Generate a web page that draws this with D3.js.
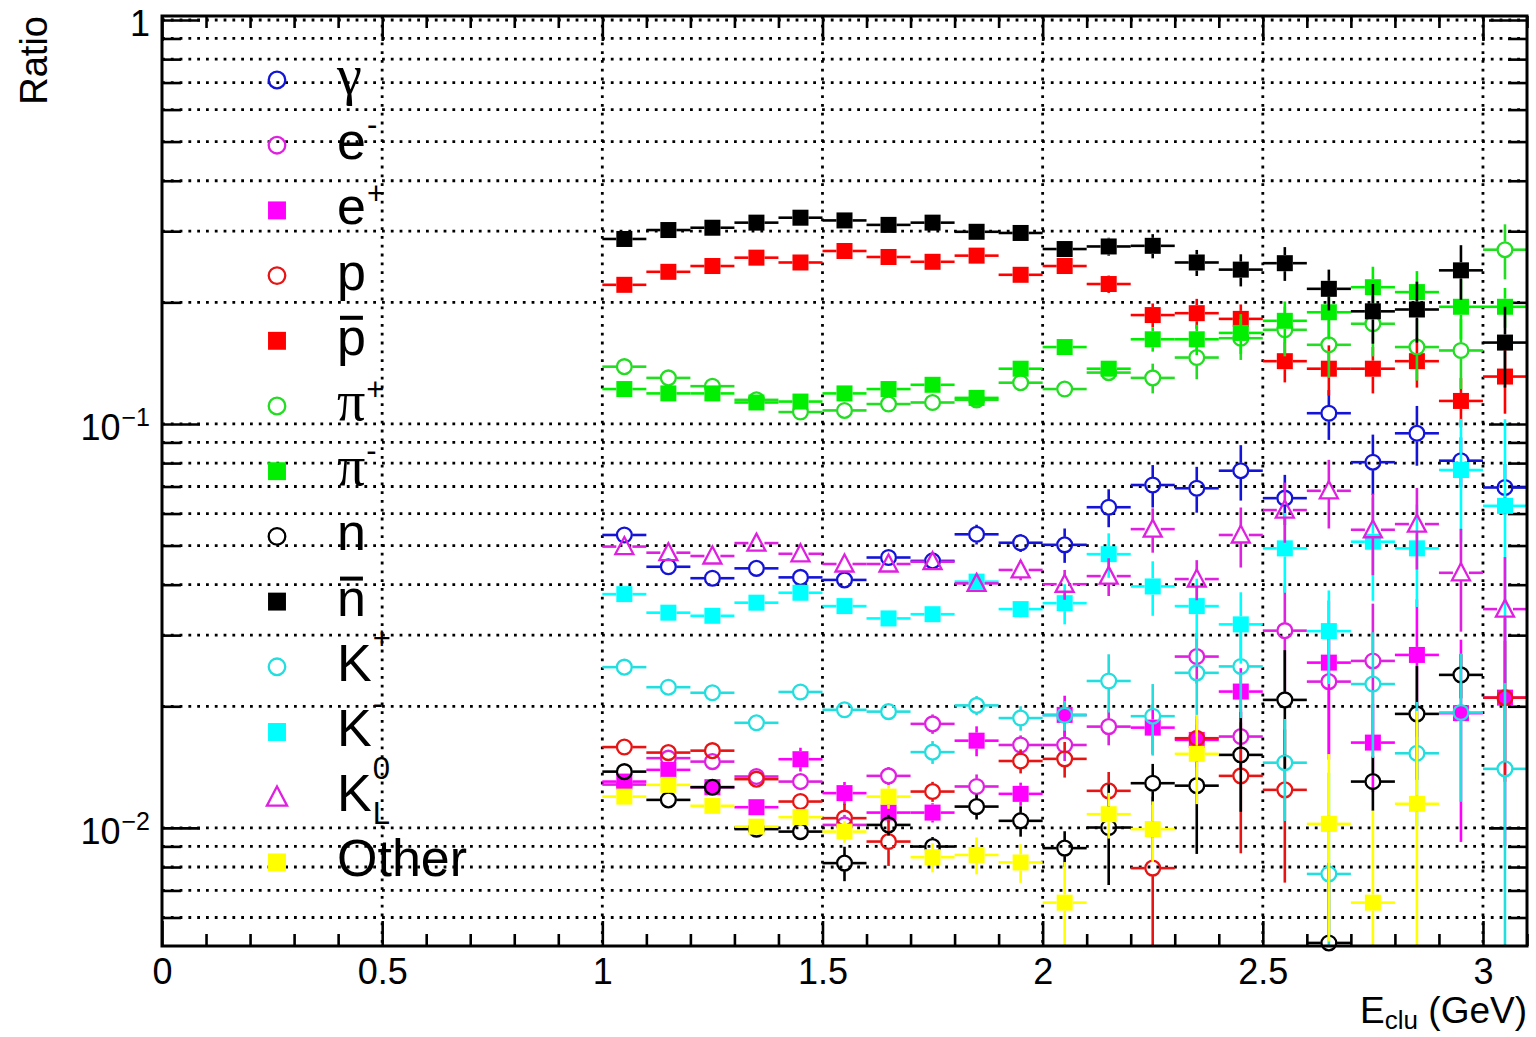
<!DOCTYPE html>
<html>
<head>
<meta charset="utf-8">
<title>Cluster composition vs. cluster energy</title>
<script src="https://cdn.jsdelivr.net/npm/d3@7"></script>
<style>
  body { margin: 0; background: #ffffff; }
  svg { display: block; }
  text { font-family: "Liberation Sans", Arial, Helvetica, sans-serif; fill: #000; }
</style>
</head>
<body>
<svg id="chart" width="1536" height="1037"></svg>
<script>
// ---- data: fraction of clusters per particle species, in bins of E_clu (GeV) ----
const binCenters = [1.05, 1.15, 1.25, 1.35, 1.45, 1.55, 1.65, 1.75, 1.85, 1.95, 2.05,
                    2.15, 2.25, 2.35, 2.45, 2.55, 2.65, 2.75, 2.85, 2.95, 3.05];
const binHalfWidth = 0.05;

const gammaRatio = [0.0531, 0.0443, 0.0415, 0.0439, 0.0417, 0.0411, 0.0467, 0.0458, 0.0533, 0.0508, 0.0502,
                    0.0622, 0.0706, 0.0693, 0.0766, 0.0655, 0.1063, 0.0804, 0.0948, 0.0811, 0.0696];
const gammaErr   = [0.0012, 0.0012, 0.0012, 0.0012, 0.0013, 0.0014, 0.0015, 0.0016, 0.0030, 0.0026, 0.0049,
                    0.0067, 0.0085, 0.0090, 0.0120, 0.0093, 0.0150, 0.0137, 0.0160, 0.0115, 0.0100];

const eMinusRatio = [0.0128, 0.01488, 0.01459, 0.0134, 0.01302, 0.01017, 0.01345, 0.01809, 0.01266, 0.01604, 0.01604,
                     0.01781, null, 0.02655, 0.01683, 0.03078, 0.02302, 0.0259, null, null, null];
const eMinusErr   = [0.0003, 0.0003, 0.0003, 0.0004, 0.0005, 0.0006, 0.0007, 0.0010, 0.0009, 0.0009, 0.0014,
                     0.0018, null, 0.0038, 0.0029, 0.0090, 0.0078, 0.0100, null, null, null];

const ePlusRatio = [0.01302, 0.01392, 0.01261, 0.01125, 0.01479, 0.01219, 0.01091, 0.01091, 0.01644, 0.01214, 0.01904,
                    null, 0.01771, 0.01651, 0.02175, null, 0.02565, 0.01626, 0.0268, 0.01923, 0.02101];
const ePlusErr   = [0.0003, 0.0003, 0.0003, 0.0004, 0.0010, 0.0008, 0.0006, 0.0006, 0.0014, 0.0008, 0.0022,
                    null, 0.0025, 0.0024, 0.0031, null, 0.0109, 0.0040, 0.0100, 0.0100, 0.0120];

const protonRatio = [0.01585, 0.01536, 0.01553, 0.0132, 0.01162, 0.01057, 0.00925, 0.0123, null, 0.01464, 0.01482,
                     0.01235, 0.00795, 0.01667, 0.01345, 0.01242, null, null, null, null, 0.02101];
const protonErr   = [0.0003, 0.0003, 0.0003, 0.0004, 0.0005, 0.0009, 0.0012, 0.0007, null, 0.0010, 0.0015,
                     0.0014, 0.0040, 0.0019, 0.0048, 0.0051, null, null, null, null, 0.0080];

const antiProtonRatio = [0.221, 0.238, 0.246, 0.258, 0.251, 0.268, 0.259, 0.252, 0.261, 0.234, 0.246,
                         0.222, 0.186, 0.188, 0.182, 0.143, 0.137, 0.137, 0.143, 0.114, 0.131];
const antiProtonErr   = [0.003, 0.003, 0.003, 0.003, 0.003, 0.004, 0.004, 0.004, 0.004, 0.005, 0.006,
                         0.011, 0.0127, 0.016, 0.0156, 0.0163, 0.0195, 0.018, 0.020, 0.016, 0.025];

const piPlusRatio = [0.1386, 0.130, 0.124, 0.1147, 0.107, 0.108, 0.112, 0.113, 0.1147, 0.1265, 0.122,
                     0.134, 0.130, 0.146, 0.163, 0.171, 0.157, 0.177, 0.155, 0.152, 0.270];
const piPlusErr   = [0.002, 0.002, 0.002, 0.002, 0.002, 0.002, 0.003, 0.003, 0.003, 0.004, 0.005,
                     0.006, 0.011, 0.017, 0.019, 0.024, 0.027, 0.030, 0.027, 0.030, 0.042];

const piMinusRatio = [0.122, 0.119, 0.119, 0.113, 0.1136, 0.119, 0.122, 0.125, 0.116, 0.137, 0.155,
                      0.137, 0.162, 0.162, 0.168, 0.180, 0.189, 0.218, 0.212, 0.195, 0.195];
const piMinusErr   = [0.002, 0.002, 0.002, 0.002, 0.002, 0.002, 0.003, 0.003, 0.003, 0.004, 0.005,
                      0.006, 0.011, 0.014, 0.019, 0.021, 0.027, 0.027, 0.027, 0.033, 0.022];

const neutronRatio = [0.01378, 0.01173, 0.01261, 0.00993, 0.00979, 0.00818, 0.01017, 0.00899, 0.01129, 0.01041, 0.00891,
                      0.01002, 0.0129, 0.01272, 0.01516, 0.02074, 0.00519, 0.01302, 0.01915, 0.02392, null];
const neutronErr   = [0.0003, 0.0003, 0.0003, 0.0004, 0.00045, 0.0008, 0.0006, 0.0005, 0.0008, 0.0009, 0.0009,
                      0.0028, 0.0015, 0.0041, 0.0042, 0.0068, 0.0030, 0.0020, 0.0060, 0.0030, null];

const antiNeutronRatio = [0.287, 0.302, 0.306, 0.315, 0.324, 0.319, 0.311, 0.315, 0.299, 0.297, 0.271,
                          0.275, 0.276, 0.251, 0.241, 0.250, 0.216, 0.190, 0.192, 0.240, 0.159];
const antiNeutronErr   = [0.004, 0.004, 0.004, 0.004, 0.005, 0.005, 0.005, 0.005, 0.005, 0.006, 0.008,
                          0.014, 0.019, 0.0186, 0.022, 0.024, 0.025, 0.032, 0.033, 0.037, 0.036];

const kPlusRatio = [0.0250, 0.0223, 0.0216, 0.0182, 0.0217, 0.0196, 0.0194, 0.0154, 0.0201, 0.0187, 0.0190,
                    0.0231, 0.0189, 0.0242, 0.0251, 0.0145, 0.00769, 0.0227, 0.0153, 0.0193, 0.0140];
const kPlusErr   = [0.0004, 0.0004, 0.0004, 0.0005, 0.0006, 0.0008, 0.0009, 0.0010, 0.0011, 0.0013, 0.0016,
                    0.0038, 0.0038, 0.0062, 0.0064, 0.0041, 0.0060, 0.0078, 0.0052, 0.0077, 0.0120];

const kMinusRatio = [0.0379, 0.0341, 0.0335, 0.0361, 0.0382, 0.0354, 0.0330, 0.0338, 0.0407, 0.0348, 0.0360,
                     0.0476, 0.0396, 0.0354, 0.0319, 0.0492, 0.0307, 0.0511, 0.0492, 0.0769, 0.0627];
const kMinusErr   = [0.0006, 0.0006, 0.0006, 0.0007, 0.0008, 0.0009, 0.0010, 0.0011, 0.0013, 0.0016, 0.0041,
                     0.0060, 0.0061, 0.0060, 0.0064, 0.0110, 0.0080, 0.0146, 0.0140, 0.0260, 0.0400];

const kLongRatio = [0.0497, 0.0480, 0.0471, 0.0507, 0.0477, 0.0450, 0.0450, 0.0456, 0.0403, 0.0435, 0.0401,
                    0.0420, 0.0549, 0.0413, 0.0531, 0.0612, 0.0683, 0.0547, 0.0565, 0.0428, 0.0348];
const kLongErr   = [0.0008, 0.0008, 0.0008, 0.0009, 0.0010, 0.0012, 0.0012, 0.0013, 0.0011, 0.0025, 0.0034,
                    0.0045, 0.0069, 0.0047, 0.0090, 0.0104, 0.0132, 0.0125, 0.0129, 0.0122, 0.0120];

const otherRatio = [0.01195, 0.01278, 0.01134, 0.01007, 0.01063, 0.00979, 0.01195, 0.00846, 0.00857, 0.00821, 0.00653,
                    0.01081, 0.00993, 0.01525, null, null, 0.01023, 0.00653, 0.01147, null, null];
const otherErr   = [0.0002, 0.0003, 0.0003, 0.0003, 0.0005, 0.0006, 0.0008, 0.0007, 0.0009, 0.0009, 0.0017,
                    0.0014, 0.0017, 0.0038, null, null, 0.0050, 0.0045, 0.0080, null, null];

// axis tick values
const xMajorTicks = [0, 0.5, 1, 1.5, 2, 2.5, 3];
const yDecadeTicks = [0.01, 0.1, 1];
const yDecadeLabels = [["10", "\u22122"], ["10", "\u22121"], ["1", null]];

// ---- species styles (legend order = drawing order) ----
const series = [
  { label: { base: "\u03b3", greek: true },           color: "#1414d8", marker: "circle",   values: gammaRatio,       errors: gammaErr },
  { label: { base: "e", sup: "-" },                   color: "#e020e0", marker: "circle",   values: eMinusRatio,      errors: eMinusErr },
  { label: { base: "e", sup: "+" },                   color: "#ff00ff", marker: "square",   values: ePlusRatio,       errors: ePlusErr },
  { label: { base: "p" },                             color: "#e81414", marker: "circle",   values: protonRatio,      errors: protonErr },
  { label: { base: "p", bar: true },                  color: "#ff0000", marker: "square",   values: antiProtonRatio,  errors: antiProtonErr },
  { label: { base: "\u03c0", sup: "+", greek: true }, color: "#22dd22", marker: "circle",   values: piPlusRatio,      errors: piPlusErr },
  { label: { base: "\u03c0", sup: "-", greek: true }, color: "#00ee00", marker: "square",   values: piMinusRatio,     errors: piMinusErr },
  { label: { base: "n" },                             color: "#000000", marker: "circle",   values: neutronRatio,     errors: neutronErr },
  { label: { base: "n", bar: true },                  color: "#000000", marker: "square",   values: antiNeutronRatio, errors: antiNeutronErr },
  { label: { base: "K", sup: "+" },                   color: "#22dede", marker: "circle",   values: kPlusRatio,       errors: kPlusErr },
  { label: { base: "K", sup: "-" },                   color: "#00ffff", marker: "square",   values: kMinusRatio,      errors: kMinusErr },
  { label: { base: "K", sup: "0", sub: "L" },         color: "#e020e0", marker: "triangle", values: kLongRatio,       errors: kLongErr },
  { label: { base: "Other" },                         color: "#ffff00", marker: "square",   values: otherRatio,       errors: otherErr }
];

// ---- layout ----
const frame = { left: 162, right: 1527, top: 16, bottom: 946 };
const svg = d3.select("#chart");

const x = d3.scaleLinear().domain([0, 3.1]).range([frame.left, frame.right]);
const y = d3.scaleLog().domain([0.0051, 1.023]).range([frame.bottom, frame.top]);

const yAllTicks = y.ticks();                       // 1..9 x each decade inside the range
const yMinorTicks = yAllTicks.filter(v => !yDecadeTicks.some(d => Math.abs(d - v) / d < 1e-6));
const xMinorTicks = x.ticks(31).filter(v => !xMajorTicks.some(d => Math.abs(d - v) < 1e-6));

// ---- dotted grid ----
const grid = svg.append("g").attr("stroke", "#000").attr("stroke-width", 2.8)
  .attr("stroke-dasharray", "2.8 6").attr("fill", "none");
grid.selectAll("line.h").data(yAllTicks).join("line").attr("class", "h")
  .attr("x1", frame.left).attr("x2", frame.right)
  .attr("y1", d => y(d)).attr("y2", d => y(d));
grid.selectAll("line.v").data(xMajorTicks.filter(d => d > 0)).join("line").attr("class", "v")
  .attr("y1", frame.top).attr("y2", frame.bottom)
  .attr("x1", d => x(d)).attr("x2", d => x(d));

// ---- axes (ticks point into the frame) ----
function styleAxis(g) {
  g.select(".domain").remove();
  g.selectAll(".tick line").attr("stroke", "#000").attr("stroke-width", 2.6);
  g.selectAll(".tick text").attr("font-size", 36).attr("font-family", "'Liberation Sans', Arial, sans-serif");
}
svg.append("g").attr("transform", `translate(0,${frame.bottom})`)
  .call(d3.axisBottom(x).tickValues(xMajorTicks).tickSize(-25).tickPadding(12).tickFormat(d3.format("")))
  .call(styleAxis);
svg.append("g").attr("transform", `translate(0,${frame.bottom})`)
  .call(d3.axisBottom(x).tickValues(xMinorTicks).tickSize(-12).tickFormat(""))
  .call(styleAxis);
svg.append("g").attr("transform", `translate(0,${frame.top})`)
  .call(d3.axisTop(x).tickValues(xMajorTicks).tickSize(-25).tickFormat(""))
  .call(styleAxis);
svg.append("g").attr("transform", `translate(0,${frame.top})`)
  .call(d3.axisTop(x).tickValues(xMinorTicks).tickSize(-12).tickFormat(""))
  .call(styleAxis);
svg.append("g").attr("transform", `translate(${frame.left},0)`)
  .call(d3.axisLeft(y).tickValues(yDecadeTicks).tickSize(-38).tickFormat(""))
  .call(styleAxis);
svg.append("g").attr("transform", `translate(${frame.left},0)`)
  .call(d3.axisLeft(y).tickValues(yMinorTicks).tickSize(-19).tickFormat(""))
  .call(styleAxis);
svg.append("g").attr("transform", `translate(${frame.right},0)`)
  .call(d3.axisRight(y).tickValues(yDecadeTicks).tickSize(-38).tickFormat(""))
  .call(styleAxis);
svg.append("g").attr("transform", `translate(${frame.right},0)`)
  .call(d3.axisRight(y).tickValues(yMinorTicks).tickSize(-19).tickFormat(""))
  .call(styleAxis);

// y tick labels written as powers of ten
const yLab = svg.append("g");
yDecadeTicks.forEach((v, i) => {
  const [base, exp] = yDecadeLabels[i];
  const right = frame.left - 12;
  if (exp) {
    const sup = yLab.append("text").attr("x", right).attr("y", y(v) + 2)
      .attr("text-anchor", "end").attr("font-size", 25).text(exp);
    const w = sup.node().getComputedTextLength();
    yLab.append("text").attr("x", right - w - 1).attr("y", y(v) + 16)
      .attr("text-anchor", "end").attr("font-size", 36).text(base);
  } else {
    yLab.append("text").attr("x", right).attr("y", y(v) + 16)
      .attr("text-anchor", "end").attr("font-size", 36).text(base);
  }
});

// axis titles
svg.append("text").attr("transform", `translate(47,${frame.top}) rotate(-90)`)
  .attr("text-anchor", "end").attr("font-size", 38).text("Ratio");
const xTitle = svg.append("text").attr("x", frame.right).attr("y", 1023)
  .attr("text-anchor", "end").attr("font-size", 37);
xTitle.append("tspan").text("E");
xTitle.append("tspan").attr("font-size", 26).attr("dy", 6).text("clu");
xTitle.append("tspan").attr("dy", -6).text(" (GeV)");

// ---- markers ----
const markerRadius = 8;
function drawMarker(g, kind, cx, cy, color, scale = 1) {
  if (kind === "circle") {
    g.append("circle").attr("cx", cx).attr("cy", cy).attr("r", 7.4 * scale)
      .attr("fill", "none").attr("stroke", color).attr("stroke-width", 2.3);
  } else if (kind === "square") {
    const s = 16 * scale;
    g.append("rect").attr("x", cx - s / 2).attr("y", cy - s / 2).attr("width", s).attr("height", s)
      .attr("fill", color);
  } else if (kind === "triangle") {
    const hw = 9 * scale, up = 9.5 * scale, dn = 7.5 * scale;
    g.append("path").attr("d", `M${cx},${cy - up}L${cx + hw},${cy + dn}L${cx - hw},${cy + dn}Z`)
      .attr("fill", "none").attr("stroke", color).attr("stroke-width", 2.3).attr("stroke-linejoin", "miter");
  }
}

// ---- data points with error bars ----
svg.append("clipPath").attr("id", "plotClip").append("rect")
  .attr("x", frame.left).attr("y", frame.top)
  .attr("width", frame.right - frame.left).attr("height", frame.bottom - frame.top);

const plot = svg.append("g");
series.forEach(s => {
  const g = plot.append("g");
  const bars = g.append("g").attr("clip-path", "url(#plotClip)")
    .attr("stroke", s.color).attr("stroke-width", 2.6);
  const marks = g.append("g");
  binCenters.forEach((c, i) => {
    const v = s.values[i];
    if (v == null) return;
    const e = s.errors[i] || 0;
    const cx = x(c), cy = y(v);
    const gap = markerRadius;
    // horizontal bar: bin width
    const xl = x(c - binHalfWidth), xr = x(c + binHalfWidth);
    bars.append("line").attr("x1", xl).attr("x2", cx - gap).attr("y1", cy).attr("y2", cy);
    bars.append("line").attr("x1", cx + gap).attr("x2", xr).attr("y1", cy).attr("y2", cy);
    // vertical bar: statistical error
    const yTop = y(v + e);
    const lo = v - e;
    const yBot = lo > y.domain()[0] ? y(lo) : frame.bottom + 2;
    if (cy - yTop > gap) bars.append("line").attr("x1", cx).attr("x2", cx).attr("y1", yTop).attr("y2", cy - gap);
    if (yBot - cy > gap) bars.append("line").attr("x1", cx).attr("x2", cx).attr("y1", cy + gap).attr("y2", yBot);
    drawMarker(marks, s.marker, cx, cy, s.color);
  });
});

// ---- frame ----
svg.append("rect").attr("x", frame.left).attr("y", frame.top)
  .attr("width", frame.right - frame.left).attr("height", frame.bottom - frame.top)
  .attr("fill", "none").attr("stroke", "#000").attr("stroke-width", 3);

// ---- legend ----
const legend = svg.append("g");
const legendMarkerX = 277, legendTextX = 337, legendFirstY = 80, legendStep = 65.2, legendFont = 52;
series.forEach((s, i) => {
  const cy = legendFirstY + i * legendStep;
  drawMarker(legend, s.marker, legendMarkerX, cy, s.color, 1.12);
  const baseY = cy + 14;
  const t = legend.append("text").attr("x", legendTextX).attr("y", baseY)
    .attr("font-size", legendFont).text(s.label.base);
  if (s.label.greek) t.style("font-family", "'Liberation Serif', 'DejaVu Serif', serif").attr("font-size", legendFont * 1.08);
  const w = t.node().getComputedTextLength();
  const isCap = /[A-Z]/.test(s.label.base);
  if (s.label.bar) {
    legend.append("rect").attr("x", legendTextX + 3).attr("y", baseY - 39)
      .attr("width", w - 6).attr("height", 4).attr("fill", "#000");
  }
  if (s.label.sup) {
    const raise = isCap ? 32 : (s.label.sup === "-" ? 24 : 20);
    legend.append("text").attr("x", legendTextX + w + 1).attr("y", baseY - raise)
      .attr("font-size", 31).text(s.label.sup);
  }
  if (s.label.sub) {
    legend.append("text").attr("x", legendTextX + w + 1).attr("y", baseY + 13)
      .attr("font-size", 31).text(s.label.sub);
  }
});
</script>
</body>
</html>
